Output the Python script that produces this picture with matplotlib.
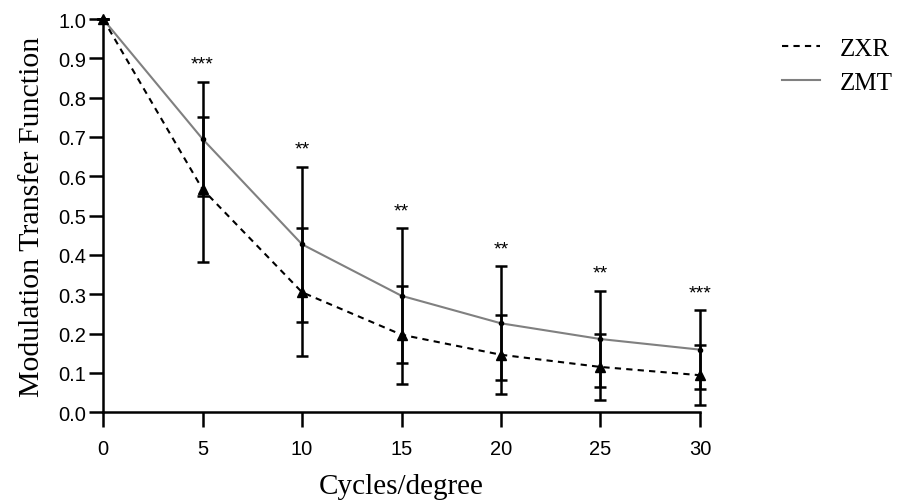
import numpy as np
import matplotlib.pyplot as plt
from matplotlib.lines import Line2D

# data
freq = [0, 5, 10, 15, 20, 25, 30]
zxr_mean = [1.0, 0.567, 0.305, 0.197, 0.146, 0.115, 0.094]
zxr_sd = [0.0, 0.185, 0.163, 0.125, 0.100, 0.084, 0.076]
zmt_mean = [1.0, 0.695, 0.427, 0.296, 0.226, 0.186, 0.159]
zmt_sd = [0.0, 0.145, 0.197, 0.172, 0.145, 0.122, 0.100]
stars = ['', '***', '**', '**', '**', '**', '***']

fig = plt.figure(figsize=(9.12, 5.02), dpi=100)
ax = fig.add_axes([0.113, 0.177, 0.6545, 0.783])

serif = ['Liberation Serif', 'DejaVu Serif']
sans = ['Liberation Sans', 'DejaVu Sans']

# ZMT first so the black bars sit on top
ax.errorbar(freq, zmt_mean, yerr=zmt_sd, color='#808080', lw=1.5,
            marker='o', ms=3, mfc='black', mec='black',
            ecolor='black', elinewidth=1.8, capsize=4, capthick=1.8,
            clip_on=False, zorder=3)
ax.errorbar(freq, zxr_mean, yerr=zxr_sd, color='black', lw=1.5, ls=(0, (3, 2.5)),
            marker='^', ms=6.5, mfc='black', mec='black',
            ecolor='black', elinewidth=1.8, capsize=4, capthick=1.8,
            clip_on=False, zorder=4)

# significance stars above the upper caps
for x, m, s, st in zip(freq, zmt_mean, zmt_sd, stars):
    if st:
        ax.text(x, m + s + 0.045, st, ha='center', va='center',
                fontsize=14, family=sans)

ax.set_xlim(0, 30)
ax.set_ylim(0, 1.0)
ax.set_xticks(freq)
yt = np.arange(0, 1.01, 0.1)
ax.set_yticks(yt)
ax.set_yticklabels(['%.1f' % v for v in yt])

for sp in ['top', 'right']:
    ax.spines[sp].set_visible(False)
for sp in ['left', 'bottom']:
    ax.spines[sp].set_linewidth(1.8)
ax.tick_params(axis='both', direction='out', width=1.8, labelsize=14.5)
ax.tick_params(axis='x', length=11, pad=8)
ax.tick_params(axis='y', length=10, pad=2)
for lb in ax.get_xticklabels() + ax.get_yticklabels():
    lb.set_family(sans)

ax.set_xlabel('Cycles/degree', fontsize=21, family=serif, labelpad=11)
ax.set_ylabel('Modulation Transfer Function', fontsize=21.5, family=serif, labelpad=10)

# legend: plain line samples only
handles = [Line2D([], [], color='black', lw=1.5, ls=(0, (3, 2.5))),
           Line2D([], [], color='#808080', lw=1.5)]
ax.legend(handles, ['ZXR', 'ZMT'], loc='upper left', bbox_to_anchor=(1.10, 1.01),
          frameon=False, prop={'family': serif, 'size': 18},
          handlelength=1.5, handletextpad=0.8, labelspacing=0.45)

fig.savefig('out.png', dpi=100)
